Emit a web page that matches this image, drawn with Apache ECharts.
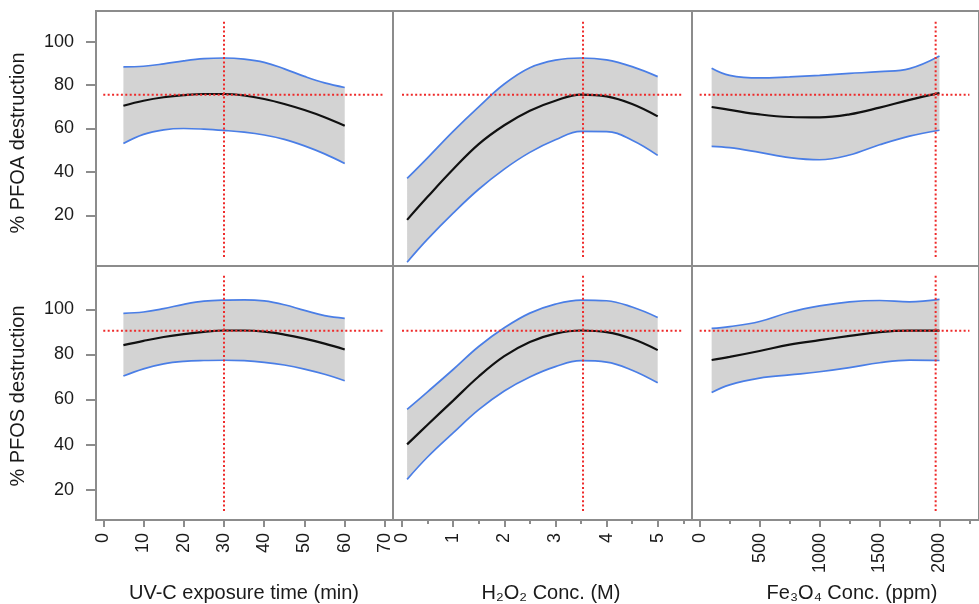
<!DOCTYPE html>
<html><head><meta charset="utf-8">
<script src="https://cdn.jsdelivr.net/npm/echarts@6/dist/echarts.min.js"></script>
<style>html,body{margin:0;padding:0;background:#fff}#c{width:979px;height:604px}</style>
</head><body><div id="c"></div>
<script>
// ---------- data ----------
const UV_X = [5,10,15,20,25,30,35,40,45,50,55,60];
const PFOA_UV_FIT = [70.5,72.8,74.4,75.4,75.9,75.9,75.2,73.6,71.3,68.5,65.2,61.3];
const PFOA_UV_HI  = [88.4,88.7,89.8,91.2,92.2,92.5,92.0,90.5,87.5,84.0,81.0,78.9];
const PFOA_UV_LO  = [53.1,57.3,59.4,60.0,59.7,59.1,58.3,57.0,55.0,52.0,48.3,43.9];
const PFOS_UV_FIT = [84.1,86.0,87.7,89.0,90.0,90.6,90.6,90.1,88.8,87.0,84.8,82.2];
const PFOS_UV_HI  = [98.2,98.8,100.3,102.2,103.6,104.1,104.2,103.7,102.0,99.5,97.2,96.0];
const PFOS_UV_LO  = [70.4,73.6,75.8,76.9,77.3,77.4,77.2,76.5,75.3,73.5,71.2,68.3];

const H2O2_X = [0.1,0.5,1,1.5,2,2.5,3,3.5,4,4.5,5];
const PFOA_H2O2_FIT = [17.9,28.5,41.2,52.8,61.5,68.2,72.8,75.6,74.8,71.3,65.6];
const PFOA_H2O2_HI  = [37.0,46.5,58.7,70.0,80.5,88.0,91.5,92.5,91.6,88.5,83.9];
const PFOA_H2O2_LO  = [-1.6,9.0,21.0,32.0,41.3,49.0,54.8,58.7,58.6,54.6,47.6];
const PFOS_H2O2_FIT = [40.1,48.8,59.5,70.2,79.2,85.5,89.2,90.6,89.9,86.9,81.9];
const PFOS_H2O2_HI  = [55.6,63.4,73.3,83.5,91.8,98.3,102.3,104.1,103.8,101.0,96.4];
const PFOS_H2O2_LO  = [24.6,34.5,45.2,55.5,63.8,70.0,74.6,77.2,76.6,73.0,67.4];

const FE_X = [100,250,500,750,1000,1250,1500,1750,2000];
const PFOA_FE_FIT = [69.9,68.6,66.5,65.3,65.1,66.5,69.6,73.2,76.3];
const PFOA_FE_HI  = [87.8,84.5,83.3,83.8,84.5,85.4,86.2,87.6,93.4];
const PFOA_FE_LO  = [51.8,51.2,49.0,46.6,45.6,47.8,52.5,56.5,59.2];
const PFOS_FE_FIT = [77.5,78.9,81.5,84.3,86.3,88.2,89.9,90.5,90.5];
const PFOS_FE_HI  = [91.5,92.3,94.6,98.7,101.5,103.3,103.9,103.3,104.4];
const PFOS_FE_LO  = [63.1,66.5,69.5,70.9,72.3,74.1,76.3,77.5,77.3];

const OPT_X = [30, 3.54, 1968];   // optimum settings (vertical red lines)
const OPT_Y = [75.6, 90.5];       // predicted optimum response (horizontal red lines)

const UV_TICKS = [0,10,20,30,40,50,60,70];
const H2O2_TICKS = [0,1,2,3,4,5];
const H2O2_MINOR = [0.5,1.5,2.5,3.5,4.5,5.5];
const FE_TICKS = [0,500,1000,1500,2000];
const FE_MINOR = [250,750,1250,1750,2250];
const Y_TICKS = [20,40,60,80,100];

const Y_TITLES = ['% PFOA destruction', '% PFOS destruction'];
const X_TITLES = ['UV-C exposure time (min)', 'H\u2082O\u2082 Conc. (M)', 'Fe\u2083O\u2084 Conc. (ppm)'];

// ---------- layout / style ----------
const FONT = "'Liberation Sans', Arial, Helvetica, sans-serif";
const FRAME = '#8c8c8c';
const BLUE = '#4a7ee6';
const RED = '#ee2a2a';
const FILL = '#d3d3d3';
const COLS = [
  {left:96,  width:297, min:-1.81,  max:72.0},
  {left:393, width:299, min:-0.176, max:5.671},
  {left:692, width:300, min:-63.8,  max:2329.5}
];
const ROWS = [
  {top:11,  height:255, min:-3.36, max:114.15},
  {top:266, height:254, min:6.56,  max:119.2}
];
const XTICKS = [UV_TICKS, H2O2_TICKS, FE_TICKS];
const XMINOR = [[], H2O2_MINOR, FE_MINOR];

const PANELS = [
  {r:0,c:0,x:UV_X,fit:PFOA_UV_FIT,hi:PFOA_UV_HI,lo:PFOA_UV_LO},
  {r:0,c:1,x:H2O2_X,fit:PFOA_H2O2_FIT,hi:PFOA_H2O2_HI,lo:PFOA_H2O2_LO},
  {r:0,c:2,x:FE_X,fit:PFOA_FE_FIT,hi:PFOA_FE_HI,lo:PFOA_FE_LO},
  {r:1,c:0,x:UV_X,fit:PFOS_UV_FIT,hi:PFOS_UV_HI,lo:PFOS_UV_LO},
  {r:1,c:1,x:H2O2_X,fit:PFOS_H2O2_FIT,hi:PFOS_H2O2_HI,lo:PFOS_H2O2_LO},
  {r:1,c:2,x:FE_X,fit:PFOS_FE_FIT,hi:PFOS_FE_HI,lo:PFOS_FE_LO}
];

const grid = [], xAxis = [], yAxis = [], series = [];
const tickLine = {color: FRAME, width: 2};
const labelStyle = {fontSize: 18, color: '#1a1a1a', fontFamily: FONT, formatter: v => String(v)};

PANELS.forEach((p, g) => {
  const C = COLS[p.c], R = ROWS[p.r];
  grid.push({left:C.left, top:R.top, width:C.width, height:R.height,
    show:true, borderColor:FRAME, borderWidth:2, backgroundColor:'transparent'});
  const xi = xAxis.length;
  xAxis.push({type:'value', gridIndex:g, min:C.min, max:C.max, position:'bottom',
    axisLine:{show:false, onZero:false}, splitLine:{show:false},
    axisTick:{show:p.r===1, customValues:XTICKS[p.c], length:7, lineStyle:tickLine},
    axisLabel:Object.assign({show:p.r===1, customValues:XTICKS[p.c], rotate:90, margin:13}, labelStyle)});
  if (p.r === 1 && XMINOR[p.c].length) {
    xAxis.push({type:'value', gridIndex:g, min:C.min, max:C.max, position:'bottom', offset:0,
      axisLine:{show:false, onZero:false}, splitLine:{show:false},
      axisTick:{show:true, customValues:XMINOR[p.c], length:4, lineStyle:tickLine},
      axisLabel:{show:false}});
  }
  yAxis.push({type:'value', gridIndex:g, min:R.min, max:R.max,
    axisLine:{show:false, onZero:false}, splitLine:{show:false},
    axisTick:{show:p.c===0, customValues:Y_TICKS, length:10, lineStyle:tickLine},
    axisLabel:Object.assign({show:p.c===0, customValues:Y_TICKS, margin:22}, labelStyle)});

  const base = {type:'line', xAxisIndex:xi, yAxisIndex:g, symbol:'none', smooth:0.4, silent:true, animation:false};
  // band fill: stacked on the y dimension (dimension 0), x from dimension 1
  series.push(Object.assign({}, base, {stack:'band'+g, stackStrategy:'all', encode:{x:1, y:0},
    data:p.x.map((v,i)=>[p.lo[i], v]), lineStyle:{opacity:0}, z:1}));
  series.push(Object.assign({}, base, {stack:'band'+g, stackStrategy:'all', encode:{x:1, y:0},
    data:p.x.map((v,i)=>[p.hi[i]-p.lo[i], v]), lineStyle:{opacity:0},
    areaStyle:{color:FILL, opacity:1}, z:1}));
  series.push(Object.assign({}, base, {data:p.x.map((v,i)=>[v, p.hi[i]]), lineStyle:{color:BLUE, width:1.7}, z:2}));
  series.push(Object.assign({}, base, {data:p.x.map((v,i)=>[v, p.lo[i]]), lineStyle:{color:BLUE, width:1.7}, z:2}));
  series.push(Object.assign({}, base, {data:p.x.map((v,i)=>[v, p.fit[i]]), lineStyle:{color:'#111', width:2.2}, z:3}));

  // red dotted reference lines (inset 10px / 9px from frame)
  const xs = C.width / (C.max - C.min), ys = R.height / (R.max - R.min);
  const dotted = {color:RED, width:2, type:[2,2.4]};
  series.push(Object.assign({}, base, {smooth:false, z:4, lineStyle:dotted,
    data:[[0, OPT_Y[p.r]], [C.max - 10/xs, OPT_Y[p.r]]]}));
  series.push(Object.assign({}, base, {smooth:false, z:4, lineStyle:dotted,
    data:[[OPT_X[p.c], R.min + 9/ys], [OPT_X[p.c], R.max - 9/ys]]}));
});

const graphic = [];
const yTitlePos = [[18, 143], [18, 396]];
Y_TITLES.forEach((t, i) => graphic.push({type:'text', x:yTitlePos[i][0], y:yTitlePos[i][1], rotation:Math.PI/2,
  style:{text:t, font:'20px ' + FONT, fill:'#1a1a1a', align:'center', verticalAlign:'middle',
         textAlign:'center', textVerticalAlign:'middle'}}));
const xTitlePos = [[244, 593], [551, 593], [852, 593]];
X_TITLES.forEach((t, i) => graphic.push({type:'text', x:xTitlePos[i][0], y:xTitlePos[i][1],
  style:{text:t, font:'20px ' + FONT, fill:'#1a1a1a', align:'center', verticalAlign:'middle',
         textAlign:'center', textVerticalAlign:'middle'}}));

const chart = echarts.init(document.getElementById('c'), null, {renderer:'canvas'});
chart.setOption({animation:false, backgroundColor:'#fff', grid, xAxis, yAxis, series, graphic});
</script></body></html>
